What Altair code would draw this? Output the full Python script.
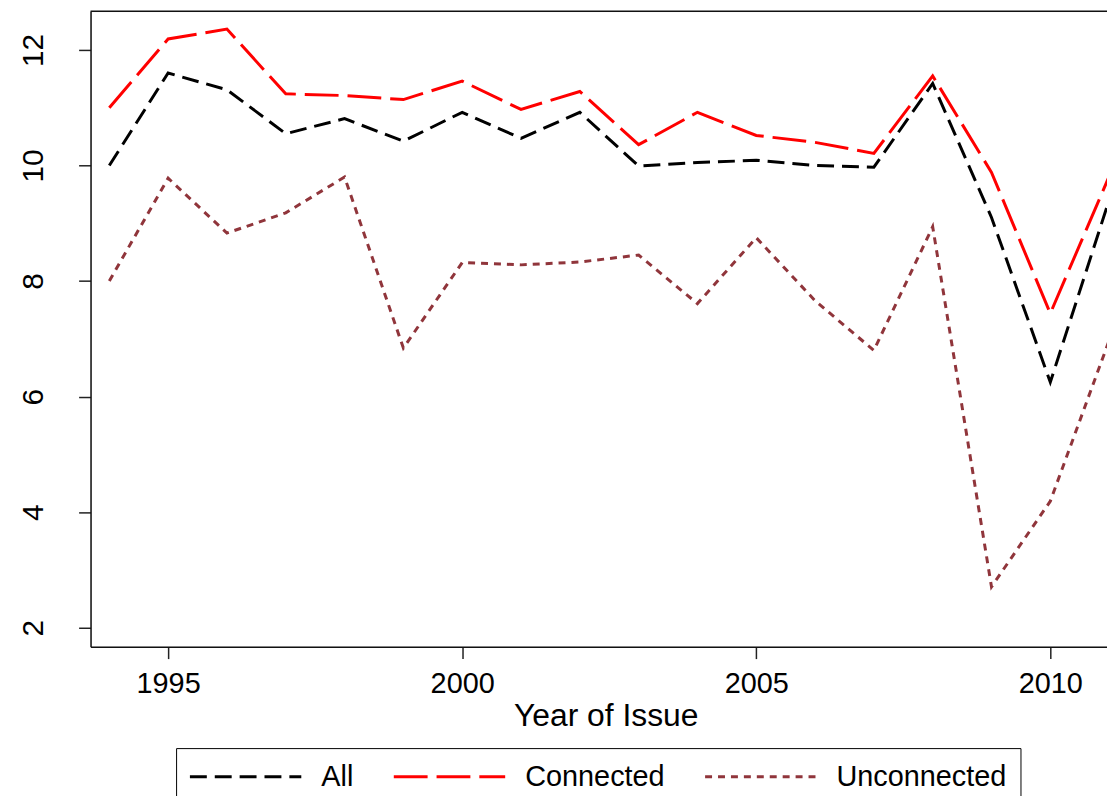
import altair as alt
import pandas as pd

years = list(range(1994, 2012))
all_vals = [10.0, 11.6, 11.31, 10.55, 10.81, 10.42, 10.92, 10.47, 10.92, 9.99,
            10.05, 10.09, 10.0, 9.97, 11.42, 9.1, 6.25, 9.4]
connected = [11.0, 12.19, 12.36, 11.24, 11.21, 11.14, 11.46, 10.97, 11.28, 10.36,
             10.92, 10.52, 10.40, 10.21, 11.55, 9.88, 7.44, 9.81]
unconnected = [8.0, 9.78, 8.83, 9.18, 9.8, 6.84, 8.32, 8.28, 8.33, 8.45,
               7.61, 8.75, 7.66, 6.80, 8.94, 2.71, 4.19, 6.97]
series = ["All", "Connected", "Unconnected"]
colors = ["#000000", "#FF0000", "#90353B"]
dashes = [[17, 8], [34, 9], [7, 6]]
x_ticks = [1995, 2000, 2005, 2010]
y_ticks = [2, 4, 6, 8, 10, 12]

rows = []
for name, vals in zip(series, [all_vals, connected, unconnected]):
    for yr, v in zip(years, vals):
        rows.append({"year": yr, "value": v, "series": name})
df = pd.DataFrame(rows)

FONT = "Liberation Sans"
W, H = 1022, 639

# horizontal line symbol: 112px long (scale factor sqrt(256)/2 = 8)
legend = alt.Legend(
    title=None, orient="none", legendX=86, legendY=741, direction="horizontal",
    symbolType="M-1.825,0H12.175", symbolSize=256, symbolStrokeWidth=3,
    symbolFillColor="transparent",
    labelFontSize=29, labelFont=FONT, labelColor="black", labelOffset=103,
    labelLimit=0, columnPadding=33, strokeColor="black", padding=14,
)

lines = alt.Chart(df).mark_line(strokeWidth=3, strokeCap="butt", clip=False).encode(
    x=alt.X("year:Q", scale=alt.Scale(domain=[1993.681, 2010.964], nice=False, zero=False),
            axis=alt.Axis(values=x_ticks, format="d", title="Year of Issue", grid=False,
                          labelFontSize=29, labelFont=FONT, labelColor="black",
                          labelPadding=11, tickSize=12, tickColor="#222", tickWidth=1.5,
                          domainColor="#111", domainWidth=1.5,
                          titleFontSize=32, titleFont=FONT, titleFontWeight="normal",
                          titleColor="black", titlePadding=2, titleX=518)),
    y=alt.Y("value:Q", scale=alt.Scale(domain=[1.673, 12.671], nice=False, zero=False),
            axis=alt.Axis(values=y_ticks, title=None, grid=False, labelAngle=270,
                          labelAlign="center", labelBaseline="bottom",
                          labelFontSize=30, labelFont=FONT, labelColor="black",
                          labelPadding=30, tickSize=12, tickColor="#222", tickWidth=1.5,
                          domainColor="#111", domainWidth=1.5)),
    color=alt.Color("series:N", scale=alt.Scale(domain=series, range=colors), legend=legend),
    strokeDash=alt.StrokeDash("series:N", scale=alt.Scale(domain=series, range=dashes), legend=legend),
)

top_border = alt.Chart(pd.DataFrame({"a": [0]})).mark_rule(color="#111", strokeWidth=1.5).encode(
    x=alt.value(0), x2=alt.value(W), y=alt.value(0)
)

chart = alt.layer(top_border, lines).properties(
    width=W, height=H,
    autosize=alt.AutoSizeParams(type="none"),
    padding={"left": 83, "top": 1, "right": 0, "bottom": 148},
).configure_view(stroke=None).configure(background="white")

chart.save("out.html", embed_options={"renderer": "svg", "actions": False})
